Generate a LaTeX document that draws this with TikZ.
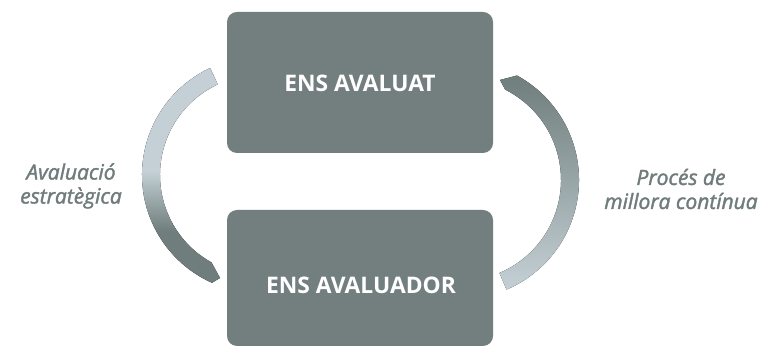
\documentclass[tikz,border=0pt]{standalone}
\usepackage{fontspec}
\setmainfont{Open Sans}
\newfontfamily\labelfont[FakeBold=1.8]{Open Sans}
\usetikzlibrary{calc}
\definecolor{boxgray}{HTML}{727F7E}
\definecolor{arcdark}{HTML}{6F7D7C}
\definecolor{arclight}{HTML}{C4D0D5}
\definecolor{labelgray}{HTML}{6F7C7B}
\pgfdeclareverticalshading{leftshade}{100bp}{color(0bp)=(arcdark); color(37bp)=(arcdark); color(51bp)=(arclight); color(100bp)=(arclight)}
\begin{document}
\begin{tikzpicture}[x=1pt,y=1pt,
  entbox/.style={fill=boxgray, rounded corners=10pt, inner sep=0pt},
  enttext/.style={text=white, font=\fontsize{22.8}{26}\selectfont\bfseries},
  sidelabel/.style={text=labelgray, align=center, font=\fontsize{21}{24}\selectfont\labelfont\itshape}]
\useasboundingbox (0,0) rectangle (762,347);
% boxes
\node[entbox, minimum width=266pt, minimum height=141pt] (top) at (360,264.5) {};
\node[entbox, minimum width=266pt, minimum height=136pt] (bot) at (360,69) {};
\node[enttext] (toptext) at (360,264) {ENS AVALUAT};
\node[enttext] (bottext) at (361,62) {ENS AVALUADOR};
% arcs
\coordinate (Lc) at (260,172);
\coordinate (Rc) at (460,167);
\fill[shading=leftshade]
  ($(Lc)+(115:118pt)$) arc[start angle=115, end angle=246, radius=118pt]
  -- (220,69)
  -- ($(Lc)+(241:100pt)$) arc[start angle=241, end angle=115, radius=100pt] -- cycle;
\fill[top color=arcdark, bottom color=arclight]
  ($(Rc)+(-67:119pt)$) arc[start angle=-67, end angle=61.4, radius=119pt]
  -- (500,267)
  -- ($(Rc)+(63.4:101pt)$) arc[start angle=63.4, end angle=-67, radius=101pt] -- cycle;
% labels
\node[sidelabel] (leftlabel) at (71,161) {Avaluació\\estratègica};
\node[sidelabel] (rightlabel) at (681,158) {Procés de\\millora contínua};
\end{tikzpicture}
\end{document}
